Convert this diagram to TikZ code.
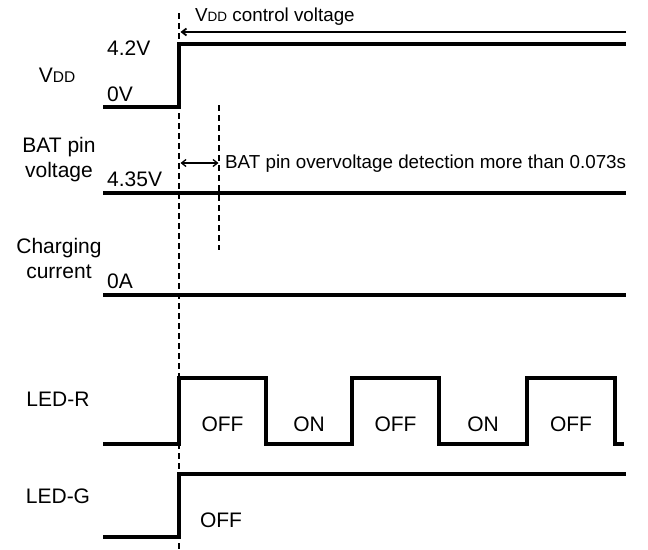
\documentclass[tikz,border=0pt]{standalone}
\usepackage{fontspec}
\setmainfont{Liberation Sans}
\usetikzlibrary{arrows.meta}
\begin{document}
\begin{tikzpicture}[x=1pt,y=-1pt,
  sig/.style={line width=3.1pt, line join=miter, line cap=butt},
  guide/.style={line width=1.4pt, dash pattern=on 6pt off 4pt},
  lbl/.style={inner sep=0pt, font=\fontsize{21}{25}\selectfont},
  note/.style={inner sep=0pt, font=\fontsize{18.8}{22}\selectfont},
  barb/.style={line width=1.8pt},
  tip/.tip={Straight Barb[length=4.5pt,width=7pt]}]
\useasboundingbox (0,0) rectangle (648,549);

% guide lines
\coordinate (g1top) at (179,13);
\coordinate (g1bot) at (179,549);
\coordinate (g2top) at (219,105);
\coordinate (g2bot) at (219,250);
\draw[guide] (g1top) -- (g1bot);
\draw[guide] (g2top) -- (g2bot);

% arrows
\coordinate (ctlR) at (626,32);
\coordinate (ctlL) at (180.5,32);
\draw[barb,-tip] (ctlR) -- (ctlL);
\coordinate (ovL) at (180.5,163);
\coordinate (ovR) at (218.5,163);
\draw[line width=1.3pt,tip-tip] (ovL) -- (ovR);

% signals
\draw[sig] (103,107) -- (179,107) -- (179,44) -- (626,44);
\draw[sig] (103,193) -- (626,193);
\draw[sig] (103,295) -- (626,295);
\draw[sig] (103,444) -| (179,378) -| (266,444) -| (352,378) -| (439,444) -| (527,378) -| (615,444) -- (624,444);
\draw[sig] (103,537) -| (179,474) -- (626,474);

% texts
\node[note, anchor=base west] (vddc) at (195,21) {V{\fontsize{13.5}{16}\selectfont DD} control voltage};
\node[lbl, anchor=base west] (v42) at (107,55) {4.2V};
\node[lbl, anchor=base] (vdd) at (57,82) {V{\fontsize{15.5}{18}\selectfont DD}};
\node[lbl, anchor=base west] (v0) at (107,101) {0V};
\node[lbl, anchor=base] (bat1) at (59,152) {BAT pin};
\node[lbl, anchor=base] (bat2) at (59,177) {voltage};
\node[lbl, anchor=base west] (v435) at (107,186) {4.35V};
\node[note, anchor=base west] (ov) at (225,168) {BAT pin overvoltage detection more than 0.073s};
\node[lbl, anchor=base] (ch1) at (59,253) {Charging};
\node[lbl, anchor=base] (ch2) at (59,278) {current};
\node[lbl, anchor=base west] (a0) at (107,288) {0A};
\node[lbl, anchor=base] (ledr) at (58,406) {LED-R};
\node[lbl, anchor=base] (r1) at (222.5,431) {OFF};
\node[lbl, anchor=base] (r2) at (309,431) {ON};
\node[lbl, anchor=base] (r3) at (395.5,431) {OFF};
\node[lbl, anchor=base] (r4) at (483,431) {ON};
\node[lbl, anchor=base] (r5) at (571,431) {OFF};
\node[lbl, anchor=base] (ledg) at (58,503) {LED-G};
\node[lbl, anchor=base] (goff) at (221,527) {OFF};
\end{tikzpicture}
\end{document}
